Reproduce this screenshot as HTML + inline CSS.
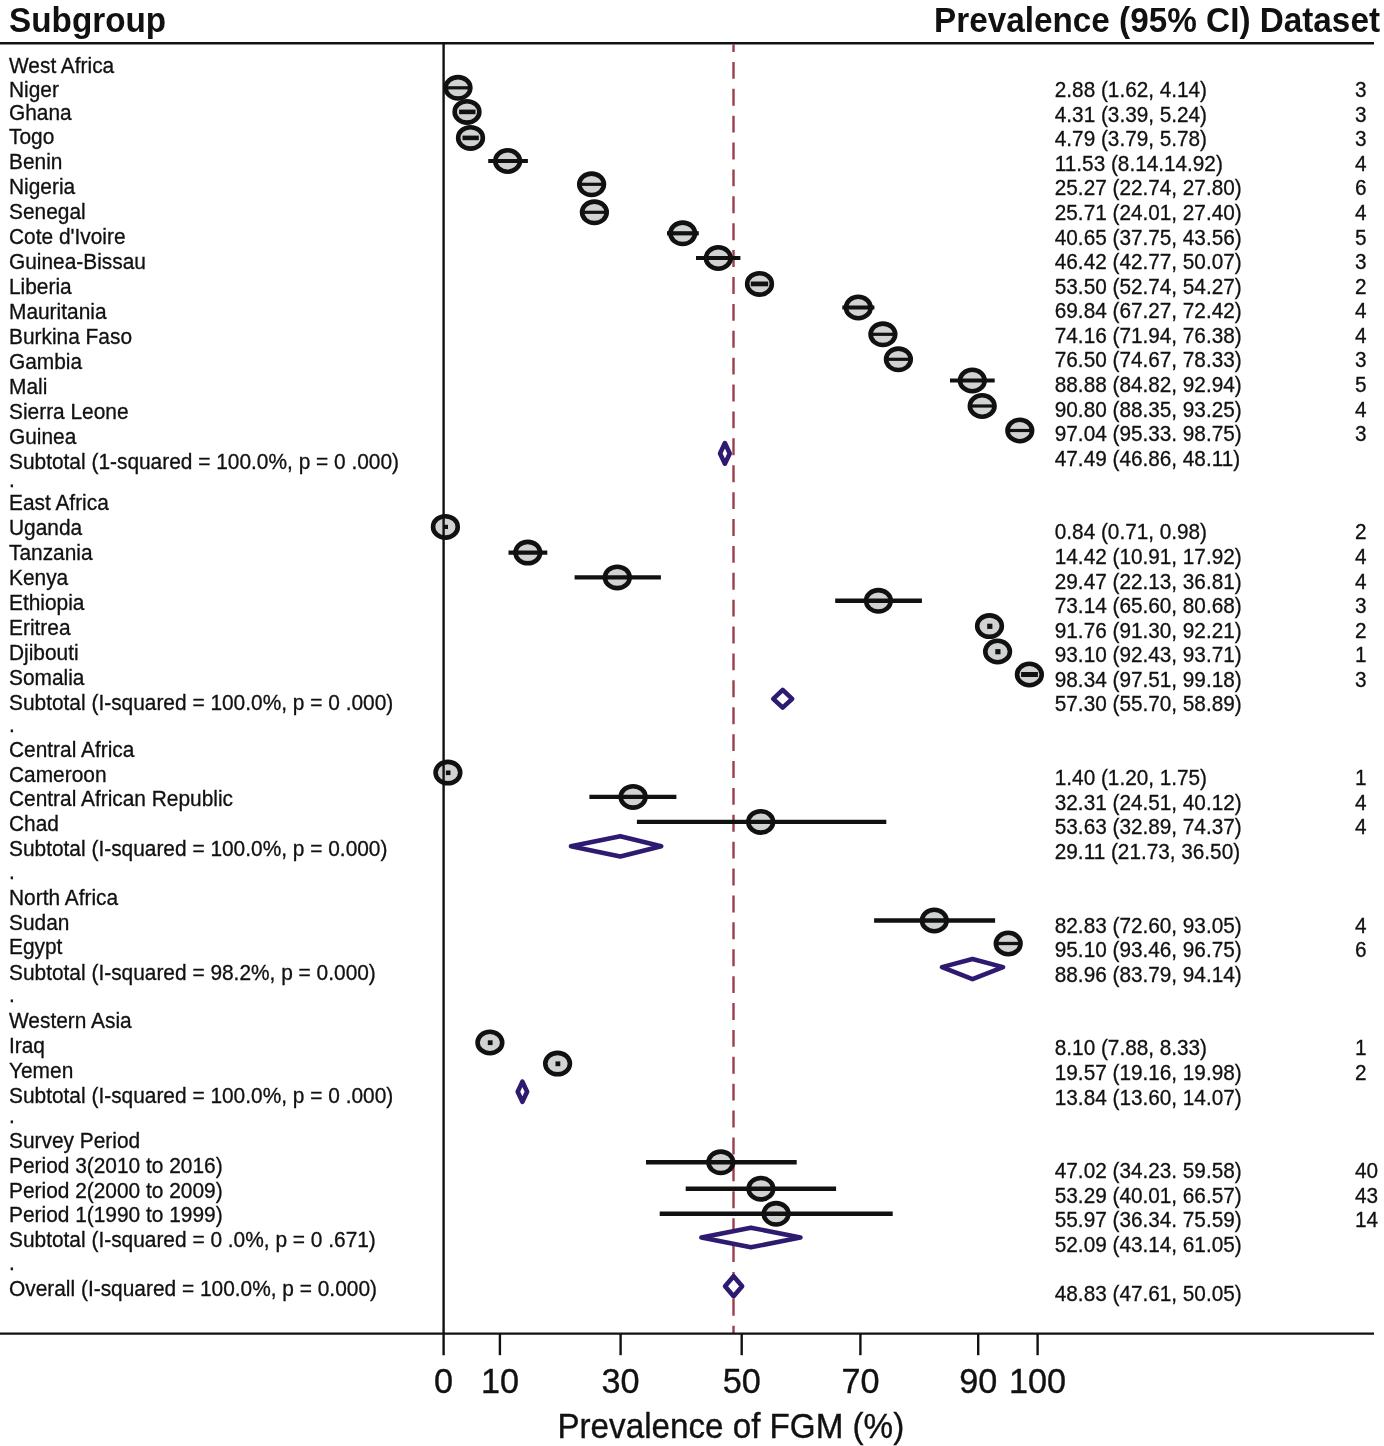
<!DOCTYPE html>
<html lang="en"><head><meta charset="utf-8"><title>Forest plot: Prevalence of FGM</title>
<style>html,body{margin:0;padding:0;background:#fff}body{width:1384px;height:1446px;overflow:hidden}svg{display:block;will-change:transform;font-family:"Liberation Sans",sans-serif}text{fill:#111;white-space:pre}.h{font-weight:bold;font-size:33.3px}.r{font-size:20.9px}.v{font-size:20.76px}.r text{stroke:#111;stroke-width:.3px}.t,.x{stroke:#111;stroke-width:.35px}.t{font-size:34.2px;text-anchor:middle}.x{font-size:33.2px;text-anchor:middle}</style></head><body>
<svg width="1384" height="1446" viewBox="0 0 1384 1446">
<rect width="1384" height="1446" fill="#fff"/>
<text class="h" transform="translate(9.0 32.0) scale(1 1.055)">Subgroup</text>
<text class="h" text-anchor="end" transform="translate(1380 32.0) scale(1 1.055)">Prevalence (95% CI) Dataset</text>
<line x1="733.5" y1="44.4" x2="733.5" y2="1333" stroke="#9b3f4e" stroke-width="2.4" stroke-dasharray="16.9 9.99" stroke-dashoffset="9.4"/>
<g stroke="#111" stroke-width="2.4" fill="none">
<line x1="0" y1="43.2" x2="1374" y2="43.2"/>
<line x1="0" y1="1333.6" x2="1374" y2="1333.6"/>
<line x1="499.9" y1="1333.6" x2="499.9" y2="1355.2"/>
<line x1="620.6" y1="1333.6" x2="620.6" y2="1355.2"/>
<line x1="741.7" y1="1333.6" x2="741.7" y2="1355.2"/>
<line x1="860.4" y1="1333.6" x2="860.4" y2="1355.2"/>
<line x1="978.2" y1="1333.6" x2="978.2" y2="1355.2"/>
<line x1="1037.6" y1="1333.6" x2="1037.6" y2="1355.2"/>
</g>
<text class="t" transform="translate(443.6 1393.1) scale(1 1.02)">0</text>
<text class="t" transform="translate(499.9 1393.1) scale(1 1.02)">10</text>
<text class="t" transform="translate(620.6 1393.1) scale(1 1.02)">30</text>
<text class="t" transform="translate(741.7 1393.1) scale(1 1.02)">50</text>
<text class="t" transform="translate(860.4 1393.1) scale(1 1.02)">70</text>
<text class="t" transform="translate(978.2 1393.1) scale(1 1.02)">90</text>
<text class="t" transform="translate(1037.6 1393.1) scale(1 1.02)">100</text>
<text class="x" transform="translate(730.8 1438.0) scale(1 1.05)">Prevalence of FGM (%)</text>
<g class="r">
<text transform="translate(9.0 73.3) scale(1 1.035)">West Africa</text>
<text transform="translate(9.0 96.55) scale(1 1.035)">Niger</text>
<text transform="translate(9.0 119.5) scale(1 1.035)">Ghana</text>
<text transform="translate(9.0 144.2) scale(1 1.035)">Togo</text>
<text transform="translate(9.0 169.3) scale(1 1.035)">Benin</text>
<text transform="translate(9.0 194.3) scale(1 1.035)">Nigeria</text>
<text transform="translate(9.0 218.8) scale(1 1.035)">Senegal</text>
<text transform="translate(9.0 244.0) scale(1 1.035)">Cote d'Ivoire</text>
<text transform="translate(9.0 268.9) scale(1 1.035)">Guinea-Bissau</text>
<text transform="translate(9.0 294.1) scale(1 1.035)">Liberia</text>
<text transform="translate(9.0 319.0) scale(1 1.035)">Mauritania</text>
<text transform="translate(9.0 343.9) scale(1 1.035)">Burkina Faso</text>
<text transform="translate(9.0 369.3) scale(1 1.035)">Gambia</text>
<text transform="translate(9.0 394.0) scale(1 1.035)">Mali</text>
<text transform="translate(9.0 419.1) scale(1 1.035)">Sierra Leone</text>
<text transform="translate(9.0 444.1) scale(1 1.035)">Guinea</text>
<text transform="translate(9.0 469.0) scale(1 1.035)">Subtotal (1-squared = 100.0%, p = 0 .000)</text>
<text transform="translate(9.0 486.9) scale(1 1.035)">.</text>
<text transform="translate(9.0 510.0) scale(1 1.035)">East Africa</text>
<text transform="translate(9.0 535.1) scale(1 1.035)">Uganda</text>
<text transform="translate(9.0 560.1) scale(1 1.035)">Tanzania</text>
<text transform="translate(9.0 585.0) scale(1 1.035)">Kenya</text>
<text transform="translate(9.0 609.9) scale(1 1.035)">Ethiopia</text>
<text transform="translate(9.0 634.9) scale(1 1.035)">Eritrea</text>
<text transform="translate(9.0 659.8) scale(1 1.035)">Djibouti</text>
<text transform="translate(9.0 684.7) scale(1 1.035)">Somalia</text>
<text transform="translate(9.0 709.7) scale(1 1.035)">Subtotal (I-squared = 100.0%, p = 0 .000)</text>
<text transform="translate(9.0 731.7) scale(1 1.035)">.</text>
<text transform="translate(9.0 756.5) scale(1 1.035)">Central Africa</text>
<text transform="translate(9.0 781.5) scale(1 1.035)">Cameroon</text>
<text transform="translate(9.0 806.4) scale(1 1.035)">Central African Republic</text>
<text transform="translate(9.0 831.2) scale(1 1.035)">Chad</text>
<text transform="translate(9.0 856.3) scale(1 1.035)">Subtotal (I-squared = 100.0%, p = 0.000)</text>
<text transform="translate(9.0 879.0) scale(1 1.035)">.</text>
<text transform="translate(9.0 904.6) scale(1 1.035)">North Africa</text>
<text transform="translate(9.0 929.5) scale(1 1.035)">Sudan</text>
<text transform="translate(9.0 954.4) scale(1 1.035)">Egypt</text>
<text transform="translate(9.0 979.6) scale(1 1.035)">Subtotal (I-squared = 98.2%, p = 0.000)</text>
<text transform="translate(9.0 1001.5) scale(1 1.035)">.</text>
<text transform="translate(9.0 1028.2) scale(1 1.035)">Western Asia</text>
<text transform="translate(9.0 1053.1) scale(1 1.035)">Iraq</text>
<text transform="translate(9.0 1078.0) scale(1 1.035)">Yemen</text>
<text transform="translate(9.0 1102.9) scale(1 1.035)">Subtotal (I-squared = 100.0%, p = 0 .000)</text>
<text transform="translate(9.0 1122.9) scale(1 1.035)">.</text>
<text transform="translate(9.0 1147.6) scale(1 1.035)">Survey Period</text>
<text transform="translate(9.0 1173.2) scale(1 1.035)">Period 3(2010 to 2016)</text>
<text transform="translate(9.0 1197.8) scale(1 1.035)">Period 2(2000 to 2009)</text>
<text transform="translate(9.0 1222.3) scale(1 1.035)">Period 1(1990 to 1999)</text>
<text transform="translate(9.0 1247.4) scale(1 1.035)">Subtotal (I-squared = 0 .0%, p = 0 .671)</text>
<text transform="translate(9.0 1269.9) scale(1 1.035)">.</text>
<text transform="translate(9.0 1295.6) scale(1 1.035)">Overall (I-squared = 100.0%, p = 0.000)</text>
<text class="v" transform="translate(1054.8 97.15) scale(1 1.035)">2.88 (1.62, 4.14)</text>
<text class="v" transform="translate(1354.9 97.15) scale(1 1.035)">3</text>
<text class="v" transform="translate(1054.8 121.72) scale(1 1.035)">4.31 (3.39, 5.24)</text>
<text class="v" transform="translate(1354.9 121.72) scale(1 1.035)">3</text>
<text class="v" transform="translate(1054.8 146.29) scale(1 1.035)">4.79 (3.79, 5.78)</text>
<text class="v" transform="translate(1354.9 146.29) scale(1 1.035)">3</text>
<text class="v" transform="translate(1054.8 170.86) scale(1 1.035)">11.53 (8.14.14.92)</text>
<text class="v" transform="translate(1354.9 170.86) scale(1 1.035)">4</text>
<text class="v" transform="translate(1054.8 195.43) scale(1 1.035)">25.27 (22.74, 27.80)</text>
<text class="v" transform="translate(1354.9 195.43) scale(1 1.035)">6</text>
<text class="v" transform="translate(1054.8 220.0) scale(1 1.035)">25.71 (24.01, 27.40)</text>
<text class="v" transform="translate(1354.9 220.0) scale(1 1.035)">4</text>
<text class="v" transform="translate(1054.8 244.57) scale(1 1.035)">40.65 (37.75, 43.56)</text>
<text class="v" transform="translate(1354.9 244.57) scale(1 1.035)">5</text>
<text class="v" transform="translate(1054.8 269.14) scale(1 1.035)">46.42 (42.77, 50.07)</text>
<text class="v" transform="translate(1354.9 269.14) scale(1 1.035)">3</text>
<text class="v" transform="translate(1054.8 293.71) scale(1 1.035)">53.50 (52.74, 54.27)</text>
<text class="v" transform="translate(1354.9 293.71) scale(1 1.035)">2</text>
<text class="v" transform="translate(1054.8 318.28) scale(1 1.035)">69.84 (67.27, 72.42)</text>
<text class="v" transform="translate(1354.9 318.28) scale(1 1.035)">4</text>
<text class="v" transform="translate(1054.8 342.85) scale(1 1.035)">74.16 (71.94, 76.38)</text>
<text class="v" transform="translate(1354.9 342.85) scale(1 1.035)">4</text>
<text class="v" transform="translate(1054.8 367.42) scale(1 1.035)">76.50 (74.67, 78.33)</text>
<text class="v" transform="translate(1354.9 367.42) scale(1 1.035)">3</text>
<text class="v" transform="translate(1054.8 391.99) scale(1 1.035)">88.88 (84.82, 92.94)</text>
<text class="v" transform="translate(1354.9 391.99) scale(1 1.035)">5</text>
<text class="v" transform="translate(1054.8 416.56) scale(1 1.035)">90.80 (88.35, 93.25)</text>
<text class="v" transform="translate(1354.9 416.56) scale(1 1.035)">4</text>
<text class="v" transform="translate(1054.8 441.13) scale(1 1.035)">97.04 (95.33. 98.75)</text>
<text class="v" transform="translate(1354.9 441.13) scale(1 1.035)">3</text>
<text class="v" transform="translate(1054.8 465.7) scale(1 1.035)">47.49 (46.86, 48.11)</text>
<text class="v" transform="translate(1054.8 539.41) scale(1 1.035)">0.84 (0.71, 0.98)</text>
<text class="v" transform="translate(1354.9 539.41) scale(1 1.035)">2</text>
<text class="v" transform="translate(1054.8 563.98) scale(1 1.035)">14.42 (10.91, 17.92)</text>
<text class="v" transform="translate(1354.9 563.98) scale(1 1.035)">4</text>
<text class="v" transform="translate(1054.8 588.55) scale(1 1.035)">29.47 (22.13, 36.81)</text>
<text class="v" transform="translate(1354.9 588.55) scale(1 1.035)">4</text>
<text class="v" transform="translate(1054.8 613.12) scale(1 1.035)">73.14 (65.60, 80.68)</text>
<text class="v" transform="translate(1354.9 613.12) scale(1 1.035)">3</text>
<text class="v" transform="translate(1054.8 637.69) scale(1 1.035)">91.76 (91.30, 92.21)</text>
<text class="v" transform="translate(1354.9 637.69) scale(1 1.035)">2</text>
<text class="v" transform="translate(1054.8 662.26) scale(1 1.035)">93.10 (92.43, 93.71)</text>
<text class="v" transform="translate(1354.9 662.26) scale(1 1.035)">1</text>
<text class="v" transform="translate(1054.8 686.83) scale(1 1.035)">98.34 (97.51, 99.18)</text>
<text class="v" transform="translate(1354.9 686.83) scale(1 1.035)">3</text>
<text class="v" transform="translate(1054.8 711.4) scale(1 1.035)">57.30 (55.70, 58.89)</text>
<text class="v" transform="translate(1054.8 785.11) scale(1 1.035)">1.40 (1.20, 1.75)</text>
<text class="v" transform="translate(1354.9 785.11) scale(1 1.035)">1</text>
<text class="v" transform="translate(1054.8 809.68) scale(1 1.035)">32.31 (24.51, 40.12)</text>
<text class="v" transform="translate(1354.9 809.68) scale(1 1.035)">4</text>
<text class="v" transform="translate(1054.8 834.25) scale(1 1.035)">53.63 (32.89, 74.37)</text>
<text class="v" transform="translate(1354.9 834.25) scale(1 1.035)">4</text>
<text class="v" transform="translate(1054.8 858.82) scale(1 1.035)">29.11 (21.73, 36.50)</text>
<text class="v" transform="translate(1054.8 932.53) scale(1 1.035)">82.83 (72.60, 93.05)</text>
<text class="v" transform="translate(1354.9 932.53) scale(1 1.035)">4</text>
<text class="v" transform="translate(1054.8 957.1) scale(1 1.035)">95.10 (93.46, 96.75)</text>
<text class="v" transform="translate(1354.9 957.1) scale(1 1.035)">6</text>
<text class="v" transform="translate(1054.8 981.67) scale(1 1.035)">88.96 (83.79, 94.14)</text>
<text class="v" transform="translate(1054.8 1055.38) scale(1 1.035)">8.10 (7.88, 8.33)</text>
<text class="v" transform="translate(1354.9 1055.38) scale(1 1.035)">1</text>
<text class="v" transform="translate(1054.8 1079.95) scale(1 1.035)">19.57 (19.16, 19.98)</text>
<text class="v" transform="translate(1354.9 1079.95) scale(1 1.035)">2</text>
<text class="v" transform="translate(1054.8 1104.52) scale(1 1.035)">13.84 (13.60, 14.07)</text>
<text class="v" transform="translate(1054.8 1178.23) scale(1 1.035)">47.02 (34.23. 59.58)</text>
<text class="v" transform="translate(1354.9 1178.23) scale(1 1.035)">40</text>
<text class="v" transform="translate(1054.8 1202.8) scale(1 1.035)">53.29 (40.01, 66.57)</text>
<text class="v" transform="translate(1354.9 1202.8) scale(1 1.035)">43</text>
<text class="v" transform="translate(1054.8 1227.37) scale(1 1.035)">55.97 (36.34. 75.59)</text>
<text class="v" transform="translate(1354.9 1227.37) scale(1 1.035)">14</text>
<text class="v" transform="translate(1054.8 1251.94) scale(1 1.035)">52.09 (43.14, 61.05)</text>
<text class="v" transform="translate(1054.8 1301.08) scale(1 1.035)">48.83 (47.61, 50.05)</text>
</g>
<g stroke="#111">
<ellipse cx="458.0" cy="87.8" rx="12.35" ry="10.7" fill="#d1d3d2" stroke-width="4.6"/>
<line x1="446.8" y1="87.8" x2="469.2" y2="87.8" stroke-width="3.2"/>
<ellipse cx="467.0" cy="111.9" rx="12.35" ry="10.7" fill="#d1d3d2" stroke-width="4.6"/>
<line x1="459.1" y1="111.9" x2="475.5" y2="111.9" stroke-width="4.6"/>
<ellipse cx="470.5" cy="137.9" rx="12.35" ry="10.7" fill="#d1d3d2" stroke-width="4.6"/>
<line x1="462.5" y1="137.9" x2="478.8" y2="137.9" stroke-width="4.6"/>
<ellipse cx="507.6" cy="161.0" rx="12.35" ry="10.7" fill="#d1d3d2" stroke-width="4.6"/>
<line x1="488.2" y1="161.0" x2="527.9" y2="161.0" stroke-width="4.2"/>
<ellipse cx="591.6" cy="184.3" rx="12.35" ry="10.7" fill="#d1d3d2" stroke-width="4.6"/>
<line x1="580.5" y1="184.3" x2="602.7" y2="184.3" stroke-width="3.2"/>
<ellipse cx="594.4" cy="212.3" rx="12.35" ry="10.7" fill="#d1d3d2" stroke-width="4.6"/>
<line x1="583.3" y1="212.3" x2="605.5" y2="212.3" stroke-width="3.2"/>
<ellipse cx="682.7" cy="233.3" rx="12.35" ry="10.7" fill="#d1d3d2" stroke-width="4.6"/>
<line x1="667.0" y1="233.3" x2="698.8" y2="233.3" stroke-width="4.2"/>
<ellipse cx="718.3" cy="258.0" rx="12.35" ry="10.7" fill="#d1d3d2" stroke-width="4.6"/>
<line x1="696.0" y1="258.0" x2="740.4" y2="258.0" stroke-width="4.2"/>
<ellipse cx="759.5" cy="283.9" rx="12.35" ry="10.7" fill="#d1d3d2" stroke-width="4.6"/>
<line x1="750.8" y1="283.9" x2="768.2" y2="283.9" stroke-width="4.8"/>
<ellipse cx="858.3" cy="307.5" rx="12.35" ry="10.7" fill="#d1d3d2" stroke-width="4.6"/>
<line x1="842.3" y1="307.5" x2="874.4" y2="307.5" stroke-width="4.2"/>
<ellipse cx="882.9" cy="334.3" rx="12.35" ry="10.7" fill="#d1d3d2" stroke-width="4.6"/>
<line x1="871.8" y1="334.3" x2="894.0" y2="334.3" stroke-width="3.2"/>
<ellipse cx="898.4" cy="359.3" rx="12.35" ry="10.7" fill="#d1d3d2" stroke-width="4.6"/>
<line x1="887.3" y1="359.3" x2="909.5" y2="359.3" stroke-width="3.2"/>
<ellipse cx="972.3" cy="380.5" rx="12.35" ry="10.7" fill="#d1d3d2" stroke-width="4.6"/>
<line x1="950.0" y1="380.5" x2="994.7" y2="380.5" stroke-width="4.2"/>
<ellipse cx="982.2" cy="406.0" rx="12.35" ry="10.7" fill="#d1d3d2" stroke-width="4.6"/>
<line x1="971.1" y1="406.0" x2="993.3" y2="406.0" stroke-width="3.2"/>
<ellipse cx="1019.8" cy="430.5" rx="12.35" ry="10.7" fill="#d1d3d2" stroke-width="4.6"/>
<line x1="1008.7" y1="430.5" x2="1030.9" y2="430.5" stroke-width="3.2"/>
<ellipse cx="445.4" cy="526.9" rx="12.35" ry="10.7" fill="#d1d3d2" stroke-width="4.6"/>
<line x1="443.6" y1="526.9" x2="448.0" y2="526.9" stroke-width="4.2"/>
<ellipse cx="527.8" cy="552.6" rx="12.35" ry="10.7" fill="#d1d3d2" stroke-width="4.6"/>
<line x1="508.5" y1="552.6" x2="547.3" y2="552.6" stroke-width="4.4"/>
<ellipse cx="617.3" cy="577.4" rx="12.35" ry="10.7" fill="#d1d3d2" stroke-width="4.6"/>
<line x1="574.6" y1="577.4" x2="660.9" y2="577.4" stroke-width="4.4"/>
<ellipse cx="878.4" cy="600.8" rx="12.35" ry="10.7" fill="#d1d3d2" stroke-width="4.6"/>
<line x1="835.2" y1="600.8" x2="921.9" y2="600.8" stroke-width="4.6"/>
<ellipse cx="989.5" cy="626.1" rx="12.35" ry="10.7" fill="#d1d3d2" stroke-width="4.6"/>
<rect x="987.2" y="623.7" width="5.2" height="5.2" fill="#111" stroke="none"/>
<ellipse cx="997.6" cy="651.5" rx="12.35" ry="10.7" fill="#d1d3d2" stroke-width="4.6"/>
<rect x="995.3" y="649.1" width="5.2" height="5.2" fill="#111" stroke="none"/>
<ellipse cx="1029.4" cy="674.5" rx="12.35" ry="10.7" fill="#d1d3d2" stroke-width="4.6"/>
<line x1="1021.1" y1="674.5" x2="1037.9" y2="674.5" stroke-width="5.0"/>
<ellipse cx="447.9" cy="772.6" rx="12.35" ry="10.7" fill="#d1d3d2" stroke-width="4.6"/>
<rect x="445.9" y="770.5" width="4.6" height="4.6" fill="#111" stroke="none"/>
<ellipse cx="633.1" cy="796.9" rx="12.35" ry="10.7" fill="#d1d3d2" stroke-width="4.6"/>
<line x1="589.4" y1="796.9" x2="676.4" y2="796.9" stroke-width="4.4"/>
<ellipse cx="760.7" cy="821.9" rx="12.35" ry="10.7" fill="#d1d3d2" stroke-width="4.6"/>
<line x1="636.9" y1="821.9" x2="886.3" y2="821.9" stroke-width="4.2"/>
<ellipse cx="934.3" cy="920.5" rx="12.35" ry="10.7" fill="#d1d3d2" stroke-width="4.6"/>
<line x1="874.1" y1="920.5" x2="995.1" y2="920.5" stroke-width="4.5"/>
<ellipse cx="1008.2" cy="943.5" rx="12.35" ry="10.7" fill="#d1d3d2" stroke-width="4.6"/>
<line x1="997.8" y1="943.5" x2="1019.0" y2="943.5" stroke-width="3.3"/>
<ellipse cx="489.9" cy="1042.5" rx="12.35" ry="10.7" fill="#d1d3d2" stroke-width="4.6"/>
<rect x="487.8" y="1040.3" width="4.8" height="4.8" fill="#111" stroke="none"/>
<ellipse cx="557.6" cy="1063.6" rx="12.35" ry="10.7" fill="#d1d3d2" stroke-width="4.6"/>
<rect x="555.5" y="1061.4" width="4.8" height="4.8" fill="#111" stroke="none"/>
<ellipse cx="720.8" cy="1162.3" rx="12.35" ry="10.7" fill="#d1d3d2" stroke-width="4.6"/>
<line x1="646.0" y1="1162.3" x2="796.7" y2="1162.3" stroke-width="4.4"/>
<ellipse cx="760.9" cy="1188.7" rx="12.35" ry="10.7" fill="#d1d3d2" stroke-width="4.6"/>
<line x1="685.7" y1="1188.7" x2="836.1" y2="1188.7" stroke-width="4.4"/>
<ellipse cx="776.1" cy="1213.8" rx="12.35" ry="10.7" fill="#d1d3d2" stroke-width="4.6"/>
<line x1="659.7" y1="1213.8" x2="892.7" y2="1213.8" stroke-width="4.4"/>
</g>
<line x1="443.6" y1="43.2" x2="443.6" y2="1355.2" stroke="#111" stroke-width="2.4"/>
<g stroke="#2e1a70" stroke-width="4.6" fill="#fff" stroke-linejoin="round">
<polygon points="720.05,453.4 724.9,443.1 729.75,453.4 724.9,463.7"/>
<polygon points="773.25,698.8 782.7,689.9 792.15,698.8 782.7,707.7"/>
<polygon points="570.95,846.3 620.3,836.15 661.25,846.3 620.3,856.45"/>
<polygon points="941.95,967.1 972.5,959.05 1003.05,967.1 972.5,979.15"/>
<polygon points="517.7,1091.7 522.4,1081.6 527.1,1091.7 522.4,1101.8"/>
<polygon points="701.4,1237.5 750.9,1227.65 800.4,1237.5 750.9,1247.35"/>
<polygon points="725.05,1286.2 733.6,1276.15 742.15,1286.2 733.6,1296.25"/>
</g>
</svg></body></html>
